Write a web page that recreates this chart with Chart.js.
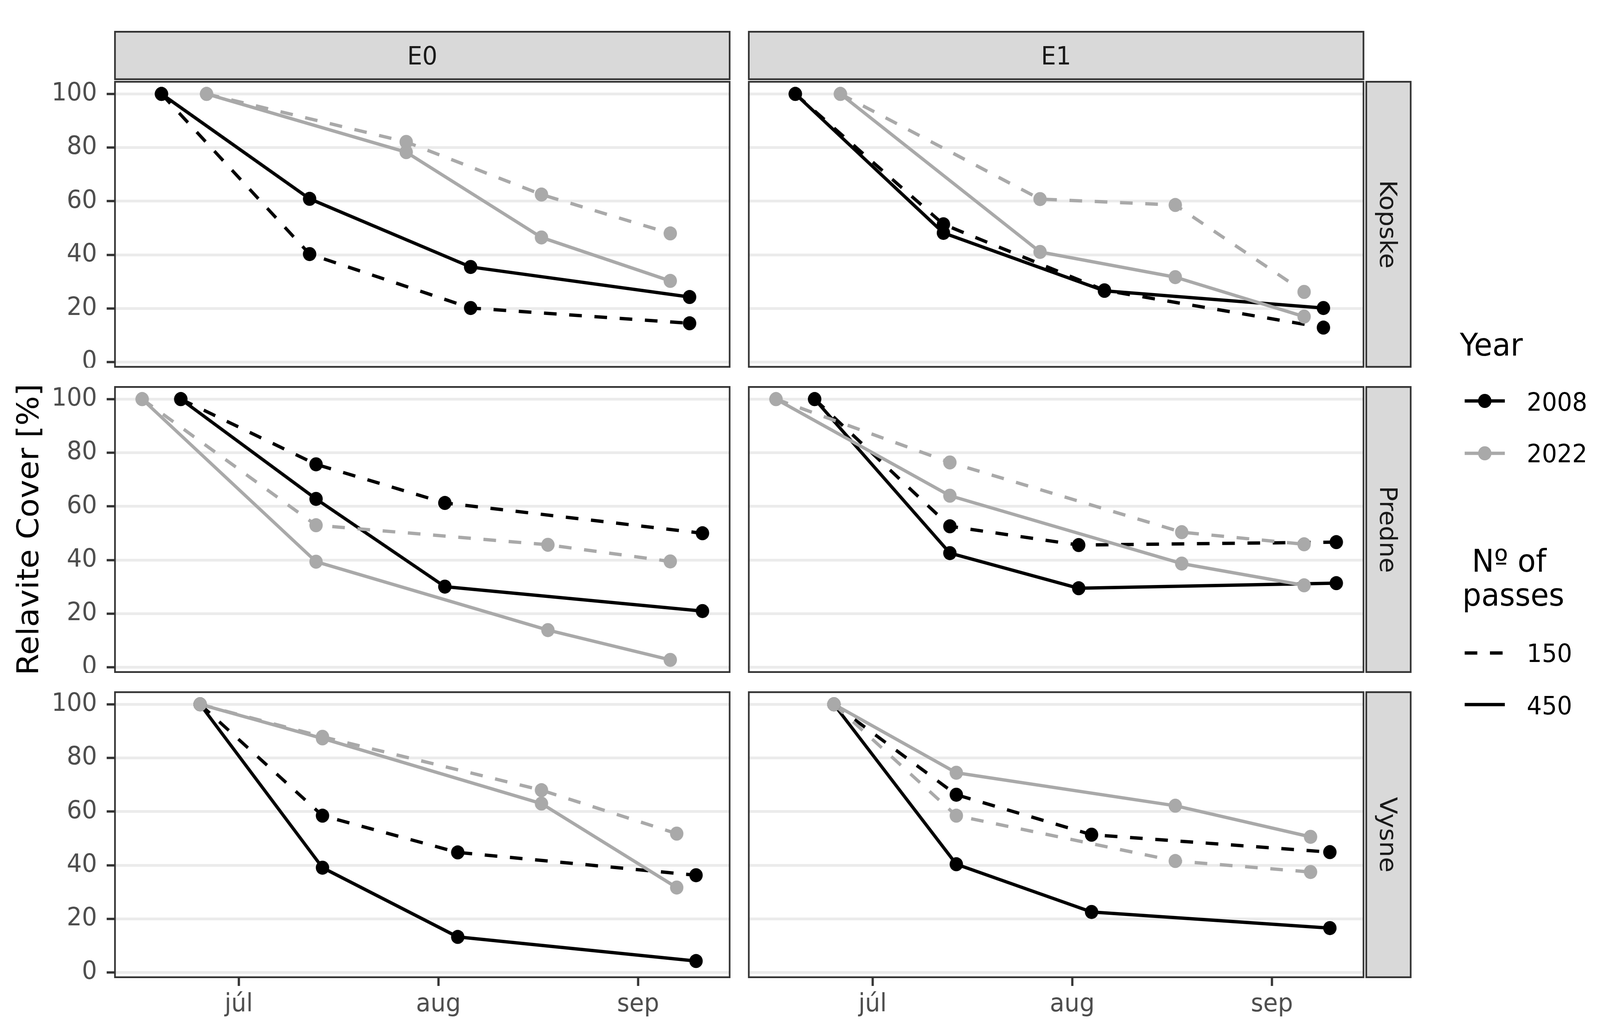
<!DOCTYPE html>
<html><head><meta charset="utf-8">
<script src="https://cdn.jsdelivr.net/npm/chart.js@4.4.1/dist/chart.umd.min.js"></script>
<style>
html,body{margin:0;padding:0;background:#fff;overflow:hidden;}
#root{position:absolute;left:0;top:0;width:4304px;height:2646px;overflow:hidden;background:#fff;transform-origin:0 0;}
#root canvas{position:absolute;}
#deco{position:absolute;left:0;top:0;}
</style></head>
<body><div id="root"><svg id="deco" width="4304" height="2646" xmlns="http://www.w3.org/2000/svg"></svg></div>
<script>
// ---------- data ----------
const experiments = ['E0', 'E1'];
const locations = ['Kopske', 'Predne', 'Vysne'];
const years = ['2008', '2022'];
const passes = ['150', '450'];
const xTickDays = [182, 213, 244];          // 1 Jul, 1 Aug, 1 Sep (day of year)
const xTickLabels = ['júl', 'aug', 'sep'];
const yTickValues = [0, 20, 40, 60, 80, 100];

// sampling dates (day of year)
const kopskeDays2008 = [170, 193, 218, 252];
const kopskeDays2022 = [177, 208, 229, 249];
const predneDays2008 = [173, 194, 214, 254];
const predneDays2022 = [167, 194, 230, 249];
const vysneDays2008  = [176, 195, 216, 253];
const vysneDays2022  = [176, 195, 229, 250];

// relative cover [%]
const e0Kopske2008p150 = [100, 40.3, 20.2, 14.5];
const e0Kopske2008p450 = [100, 60.9, 35.5, 24.3];
const e0Kopske2022p150 = [100, 82.1, 62.5, 48.0];
const e0Kopske2022p450 = [100, 78.3, 46.5, 30.3];
const e1Kopske2008p150 = [100, 51.4, 26.8, 12.9];
const e1Kopske2008p450 = [100, 48.2, 26.6, 20.2];
const e1Kopske2022p150 = [100, 60.8, 58.6, 26.2];
const e1Kopske2022p450 = [100, 41.1, 31.7, 17.0];

const e0Predne2008p150 = [100, 75.7, 61.3, 50.0];
const e0Predne2008p450 = [100, 62.8, 30.1, 21.0];
const e0Predne2022p150 = [100, 53.0, 45.7, 39.5];
const e0Predne2022p450 = [100, 39.4, 13.9, 2.8];
const e1Predne2008p150 = [100, 52.6, 45.6, 46.7];
const e1Predne2008p450 = [100, 42.6, 29.5, 31.4];
const e1Predne2022p150 = [100, 76.4, 50.4, 45.9];
const e1Predne2022p450 = [100, 64.0, 38.7, 30.6];

const e0Vysne2008p150 = [100, 58.5, 44.8, 36.3];
const e0Vysne2008p450 = [100, 39.1, 13.3, 4.3];
const e0Vysne2022p150 = [100, 87.9, 68.0, 51.8];
const e0Vysne2022p450 = [100, 87.3, 63.0, 31.7];
const e1Vysne2008p150 = [100, 66.3, 51.4, 44.9];
const e1Vysne2008p450 = [100, 40.4, 22.6, 16.6];
const e1Vysne2022p150 = [100, 58.5, 41.6, 37.5];
const e1Vysne2022p450 = [100, 74.5, 62.2, 50.6];

// ---------- lookup tables built from the arrays ----------
const dayTable = {
  Kopske: {'2008': kopskeDays2008, '2022': kopskeDays2022},
  Predne: {'2008': predneDays2008, '2022': predneDays2022},
  Vysne:  {'2008': vysneDays2008,  '2022': vysneDays2022}
};
const valueTable = {
  E0: {
    Kopske: {'2008': {'150': e0Kopske2008p150, '450': e0Kopske2008p450}, '2022': {'150': e0Kopske2022p150, '450': e0Kopske2022p450}},
    Predne: {'2008': {'150': e0Predne2008p150, '450': e0Predne2008p450}, '2022': {'150': e0Predne2022p150, '450': e0Predne2022p450}},
    Vysne:  {'2008': {'150': e0Vysne2008p150,  '450': e0Vysne2008p450},  '2022': {'150': e0Vysne2022p150,  '450': e0Vysne2022p450}}
  },
  E1: {
    Kopske: {'2008': {'150': e1Kopske2008p150, '450': e1Kopske2008p450}, '2022': {'150': e1Kopske2022p150, '450': e1Kopske2022p450}},
    Predne: {'2008': {'150': e1Predne2008p150, '450': e1Predne2008p450}, '2022': {'150': e1Predne2022p150, '450': e1Predne2022p450}},
    Vysne:  {'2008': {'150': e1Vysne2008p150,  '450': e1Vysne2008p450},  '2022': {'150': e1Vysne2022p150,  '450': e1Vysne2022p450}}
  }
};

// shared scale limits (ggplot-style 5% expansion of the data range)
let allX = [], allY = [];
locations.forEach(l => years.forEach(y => { allX = allX.concat(dayTable[l][y]); }));
experiments.forEach(e => locations.forEach(l => years.forEach(y => passes.forEach(p => { allY = allY.concat(valueTable[e][l][y][p]); }))));
const xLo = Math.min(...allX), xHi = Math.max(...allX);
const yLo = Math.min(...allY), yHi = Math.max(...allY);
const xMin = xLo - 0.05 * (xHi - xLo), xMax = xHi + 0.05 * (xHi - xLo);
const yMin = yLo - 0.05 * (yHi - yLo), yMax = yHi + 0.05 * (yHi - yLo);

// ---------- styling / layout ----------
const FONT = 'DejaVu Sans';
const yearColor = {'2008': '#000000', '2022': '#A9A9A9'};
const passDash = {'150': [34, 34], '450': []};
const PW = 1658, PH = 734;
const colLeft = [307, 2012];
const rowTop = [207, 988, 1769];
const PAGE_W = 4304, PAGE_H = 2646;

// fit the 4304x2646 design into the actual viewport
const root = document.getElementById('root');
const sx = window.innerWidth / PAGE_W, sy = window.innerHeight / PAGE_H;
root.style.transform = 'scale(' + sx + ',' + sy + ')';

Chart.defaults.font.family = FONT;

const borderPlugin = {
  id: 'panelBorder',
  afterDraw(chart) {
    const a = chart.chartArea, ctx = chart.ctx;
    ctx.save();
    ctx.strokeStyle = '#333333';
    ctx.lineWidth = 4.5;
    ctx.strokeRect(a.left + 2.25, a.top + 2.25, a.right - a.left - 4.5, a.bottom - a.top - 4.5);
    ctx.restore();
  }
};

function makePanel(ci, ri) {
  const exp = experiments[ci], loc = locations[ri];
  const isLeft = ci === 0, isBottom = ri === locations.length - 1;
  const axisW = isLeft ? colLeft[0] : 0;
  const axisH = isBottom ? PAGE_H - (rowTop[ri] + PH) : 0;
  const cv = document.createElement('canvas');
  const w = axisW + PW, h = PH + axisH;
  cv.width = w; cv.height = h;
  cv.style.width = w + 'px'; cv.style.height = h + 'px';
  cv.style.left = (colLeft[ci] - axisW) + 'px';
  cv.style.top = rowTop[ri] + 'px';
  root.appendChild(cv);

  const datasets = [];
  // lines layer (drawn first); first listed ends on top
  ['2022', '2008'].forEach(yr => ['450', '150'].forEach(p => {
    const xs = dayTable[loc][yr], ys = valueTable[exp][loc][yr][p];
    datasets.push({
      data: xs.map((x, i) => ({x: x, y: ys[i]})),
      showLine: true, borderColor: yearColor[yr], borderWidth: 8.5,
      borderDash: passDash[p], borderCapStyle: 'butt', borderJoinStyle: 'round',
      pointRadius: 0, pointHoverRadius: 0, pointHitRadius: 0, tension: 0, fill: false, order: 1,
      clip: 40
    });
  }));
  // points layer (drawn on top)
  ['2022', '2008'].forEach(yr => ['450', '150'].forEach(p => {
    const xs = dayTable[loc][yr], ys = valueTable[exp][loc][yr][p];
    datasets.push({
      data: xs.map((x, i) => ({x: x, y: ys[i]})),
      showLine: false, pointRadius: 18, pointHoverRadius: 18, pointBorderWidth: 0,
      pointBackgroundColor: yearColor[yr], backgroundColor: yearColor[yr], borderColor: yearColor[yr],
      order: 0, clip: 40
    });
  }));

  new Chart(cv, {
    type: 'scatter',
    data: {datasets},
    plugins: [borderPlugin],
    options: {
      responsive: false, animation: false, devicePixelRatio: 1, events: [],
      layout: {padding: 0, autoPadding: false},
      plugins: {legend: {display: false}, tooltip: {enabled: false}},
      scales: {
        x: {
          type: 'linear', min: xMin, max: xMax, display: isBottom,
          afterBuildTicks: s => { s.ticks = xTickDays.map(v => ({value: v})); },
          afterFit: s => { s.height = axisH; s.paddingLeft = 0; s.paddingRight = 0; },
          grid: {drawOnChartArea: false, drawTicks: true, tickLength: 20, tickWidth: 6, tickColor: '#333333'},
          border: {display: false},
          ticks: {
            font: {size: 64, family: FONT}, color: '#4D4D4D', padding: 10,
            maxRotation: 0, minRotation: 0, autoSkip: false,
            callback: v => xTickLabels[xTickDays.indexOf(v)]
          }
        },
        y: {
          type: 'linear', min: yMin, max: yMax, display: true,
          afterBuildTicks: s => { s.ticks = yTickValues.map(v => ({value: v})); },
          afterFit: s => { s.width = axisW; s.paddingTop = 0; s.paddingBottom = 0; },
          grid: {color: '#EBEBEB', lineWidth: 7, drawTicks: isLeft, tickLength: 20, tickWidth: 6, tickColor: '#333333'},
          border: {display: false},
          ticks: {
            display: isLeft, font: {size: 64, family: FONT}, color: '#4D4D4D', padding: 26,
            callback: v => String(v)
          }
        }
      }
    }
  });
}

experiments.forEach((e, ci) => locations.forEach((l, ri) => makePanel(ci, ri)));

// ---------- strips, axis title, legend (SVG text) ----------
const svgNS = 'http://www.w3.org/2000/svg';
const svg = document.getElementById('deco');
function el(tag, attrs, text) {
  const n = document.createElementNS(svgNS, tag);
  for (const k in attrs) n.setAttribute(k, attrs[k]);
  if (text !== undefined) n.textContent = text;
  svg.appendChild(n);
  return n;
}
const stripStyle = {fill: '#D9D9D9', stroke: '#333333', 'stroke-width': 4.5};
// top strips
experiments.forEach((e, ci) => {
  const x = colLeft[ci], y = 79, w = PW, h = 126;
  el('rect', Object.assign({x: x + 2.25, y: y + 2.25, width: w - 4.5, height: h - 4.5}, stripStyle));
  el('text', {x: x + w / 2, y: y + h / 2 + 23, 'text-anchor': 'middle', 'font-family': FONT, 'font-size': 64, fill: '#1A1A1A'}, e);
});
// right strips
locations.forEach((l, ri) => {
  const x = colLeft[1] + PW + 3, y = rowTop[ri], w = 124, h = PH;
  el('rect', Object.assign({x: x + 2.25, y: y + 2.25, width: w - 4.5, height: h - 4.5}, stripStyle));
  el('text', {x: 0, y: 23, transform: `translate(${x + w / 2},${y + h / 2}) rotate(90)`, 'text-anchor': 'middle', 'font-family': FONT, 'font-size': 64, fill: '#1A1A1A'}, l);
});
// y axis title
el('text', {x: 0, y: 29, transform: `translate(74,${(rowTop[0] + rowTop[2] + PH) / 2}) rotate(-90)`, 'text-anchor': 'middle', 'font-family': FONT, 'font-size': 80, fill: '#000000'}, 'Relavite Cover [%]');

// legend
el('text', {x: 3927, y: 910, 'font-family': FONT, 'font-size': 80, fill: '#000'}, 'Year');
const yearKeyY = [1026, 1160], yearLabY = [1051, 1183];
years.forEach((yr, i) => {
  el('line', {x1: 3940, x2: 4048, y1: yearKeyY[i], y2: yearKeyY[i], stroke: yearColor[yr], 'stroke-width': 8.5});
  el('circle', {cx: 3994, cy: yearKeyY[i], r: 18, fill: yearColor[yr]});
  el('text', {x: 4107, y: yearLabY[i], 'font-family': FONT, 'font-size': 64, fill: '#000'}, yr);
});
el('text', {x: 3934, y: 1463, 'font-family': FONT, 'font-size': 80, fill: '#000', style: 'white-space:pre'}, ' Nº of');
el('text', {x: 3934, y: 1550, 'font-family': FONT, 'font-size': 80, fill: '#000'}, 'passes');
const passKeyY = [1671, 1803], passLabY = [1694, 1828];
passes.forEach((p, i) => {
  const a = {x1: 3940, x2: 4048, y1: passKeyY[i], y2: passKeyY[i], stroke: '#000', 'stroke-width': 8.5};
  if (passDash[p].length) a['stroke-dasharray'] = passDash[p].join(' ');
  el('line', a);
  el('text', {x: 4107, y: passLabY[i], 'font-family': FONT, 'font-size': 64, fill: '#000'}, p);
});
</script>
</body></html>
